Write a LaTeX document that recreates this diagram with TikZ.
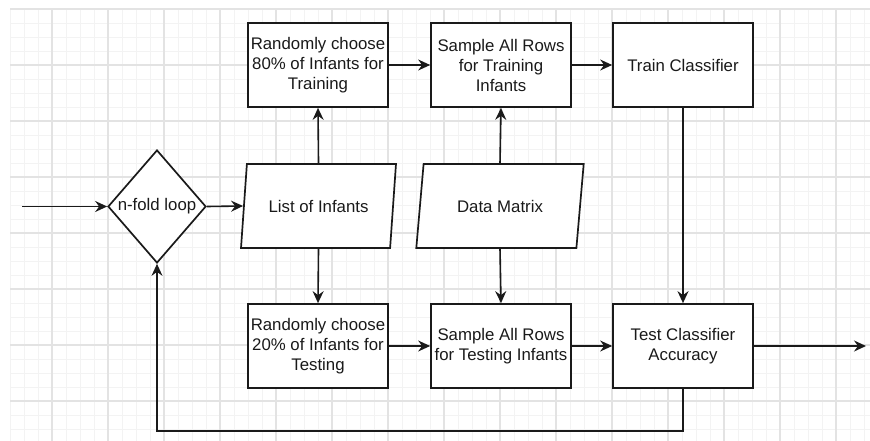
\documentclass[tikz,border=0pt]{standalone}
\usepackage{fontspec}
\setmainfont{Liberation Sans}
\usetikzlibrary{shapes.geometric,arrows.meta}
\definecolor{gridminor}{HTML}{F3F3F3}
\definecolor{gridmajor}{HTML}{E3E3E3}
\definecolor{ink}{HTML}{1A1A1A}
\begin{document}
\begin{tikzpicture}[x=1pt,y=-1pt,
  txt/.style={font=\fontsize{16.8}{20}\selectfont, text=ink, align=center},
  procbox/.style={txt, draw=ink, line width=1.7pt, fill=white, minimum width=140pt, minimum height=84pt, inner sep=0pt},
  databox/.style={txt, trapezium, trapezium left angle=71.6, trapezium right angle=108.4, trapezium stretches=true, draw=ink, line width=1.7pt, fill=white, minimum height=84pt, inner sep=0pt},
  decbox/.style={txt, diamond, draw=ink, line width=1.7pt, fill=white, minimum width=98pt, minimum height=113pt, inner sep=0pt},
  arr/.style={draw=ink, line width=1.6pt, -{Stealth[length=12pt,width=11pt,inset=4pt]}}
]
\useasboundingbox (0,0) rectangle (870,441);
\fill[white] (0,0) rectangle (870,441);
% grid
\foreach \gx in {10,24,...,870} \draw[gridminor, line width=0.8pt] (\gx,9) -- (\gx,441);
\foreach \gy in {9,23,...,441} \draw[gridminor, line width=0.8pt] (10,\gy) -- (870,\gy);
\foreach \gx in {52,108,...,870} \draw[gridmajor, line width=1.1pt] (\gx,9) -- (\gx,441);
\foreach \gy in {9,65,...,441} \draw[gridmajor, line width=1.1pt] (10,\gy) -- (870,\gy);

% nodes
\node[decbox] (dia) at (157,206.5) {n-fold loop};
\node[databox, minimum width=155pt] (list) at (318.5,206) {List of Infants};
\node[databox, minimum width=168pt] (data) at (500,206) {Data Matrix};
\node[procbox] (r80) at (318,65) {Randomly choose\\80\% of Infants for\\Training};
\node[procbox] (srtrain) at (501,65) {Sample All Rows\\for Training\\Infants};
\node[procbox] (train) at (683,65) {Train Classifier};
\node[procbox] (r20) at (318,346) {Randomly choose\\20\% of Infants for\\Testing};
\node[procbox] (srtest) at (501,346) {Sample All Rows\\for Testing Infants};
\node[procbox] (test) at (683,346) {Test Classifier\\Accuracy};
\coordinate (in) at (22,206.5);
\coordinate (out) at (866,346);
\coordinate (loopy) at (0,431);

% connectors
\draw[arr] (in) -- (dia.west);
\draw[arr] (dia.east) -- (list.west);
\draw[arr] (list.north) -- (r80.south);
\draw[arr] (list.south) -- (r20.north);
\draw[arr] (data.north) -- (srtrain.south);
\draw[arr] (data.south) -- (srtest.north);
\draw[arr] (r80.east) -- (srtrain.west);
\draw[arr] (srtrain.east) -- (train.west);
\draw[arr] (r20.east) -- (srtest.west);
\draw[arr] (srtest.east) -- (test.west);
\draw[arr] (train.south) -- (test.north);
\draw[arr] (test.east) -- (out);
\draw[arr] (test.south) |- (dia.south |- loopy) -- (dia.south);
\end{tikzpicture}
\end{document}
